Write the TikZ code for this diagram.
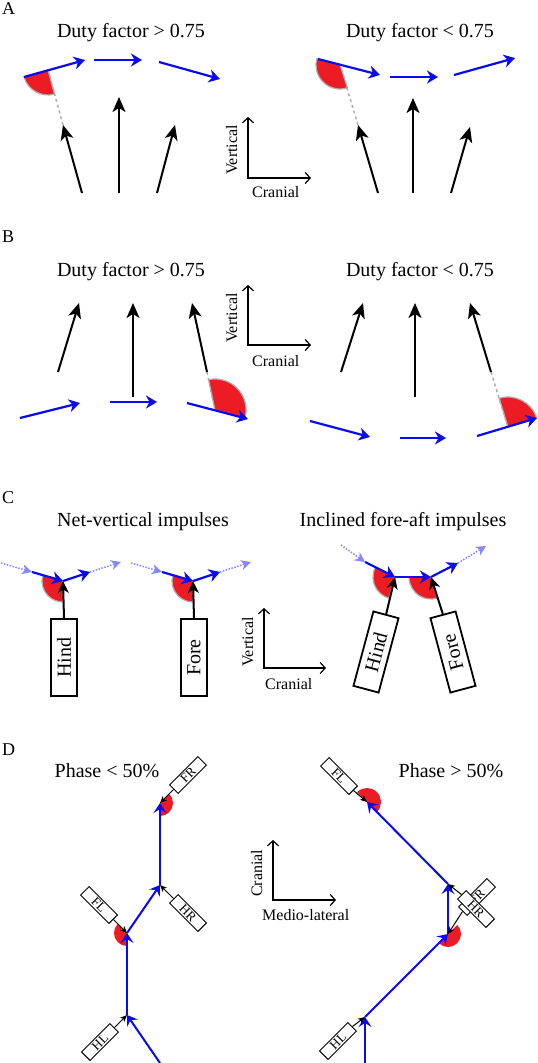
\documentclass[tikz,border=0pt]{standalone}
\usepackage{fontspec}
\setmainfont{Liberation Serif}
\usetikzlibrary{arrows.meta}
\definecolor{myblue}{RGB}{10,10,240}
\definecolor{lightblue}{RGB}{135,135,255}
\definecolor{myred}{RGB}{237,28,36}
\definecolor{bordergray}{RGB}{175,175,175}
\newcommand\fsz[1]{\fontsize{#1}{#1}\selectfont}
\newcommand\rsect[4]{\filldraw[sectorfill] (#1) -- ++(#2:#4) arc[start angle=#2, end angle=#3, radius=#4] -- cycle;}
\newcommand\rsectD[4]{\fill[myred] (#1) -- ++(#2:#4) arc[start angle=#2, end angle=#3, radius=#4] -- cycle;}
\begin{document}
\begin{tikzpicture}[x=1pt,y=1pt,
  bluearr/.style={draw=myblue, line width=2.2pt, -{Stealth[length=11pt,width=13pt,inset=3.5pt]}},
  blackarr/.style={draw=black, line width=2pt, -{Stealth[length=15pt,width=13pt,inset=4pt]}},
  blackarrC/.style={draw=black, line width=2pt, -{Stealth[length=12pt,width=11pt,inset=3.5pt]}},
  dotarr/.style={draw=lightblue, line width=1.5pt, dash pattern=on 1.5pt off 1.5pt, -{Stealth[length=10pt,width=10pt,inset=3pt]}},
  gdash/.style={draw=bordergray, line width=1.5pt, dash pattern=on 3pt off 3pt},
  sectorfill/.style={fill=myred, draw=bordergray, line width=1.2pt},
  axarr/.style={draw=black, line width=1.2pt, {Straight Barb[length=5pt,width=11pt]}-{Straight Barb[length=5pt,width=11pt]}},
  title/.style={font=\fsz{20}, anchor=base, inner sep=0pt},
  plabel/.style={font=\fsz{18}, anchor=base west, inner sep=0pt},
  axlab/.style={font=\fsz{16}, anchor=base west, inner sep=0pt},
  legbox/.style={draw, fill=white, line width=1.8pt, minimum width=77pt, minimum height=26pt, inner sep=0pt, font=\fsz{20}},
  dbox/.style={draw, fill=white, line width=1pt, minimum width=40pt, minimum height=12pt, inner sep=0pt, font=\fsz{13}},
  bluearrD/.style={draw=myblue, line width=2pt, -{Stealth[length=10pt,width=13pt,inset=4pt]}},
  smallarr/.style={draw=black, line width=1pt, -{Stealth[length=7pt,width=6pt,inset=2pt]}}
]
\useasboundingbox (0,0) rectangle (538,-1063);
\fill[white] (0,0) rectangle (538,-1063);

%%%%%%%%%%%%%%%% Panel A
\node[plabel] (labA) at (2,-14) {A};
\node[title] (tA1) at (131,-37) {Duty factor > 0.75};
\node[title] (tA2) at (420,-37) {Duty factor < 0.75};

\coordinate (a1s) at (24,-77); \coordinate (a1e) at (85,-60);
\coordinate (a2s) at (94,-60); \coordinate (a2e) at (142,-60);
\coordinate (a3s) at (159,-62); \coordinate (a3e) at (220,-79);
\coordinate (ac1) at (48,-70);
\coordinate (af1s) at (82,-193); \coordinate (af1e) at (63,-125);
\coordinate (af2s) at (119,-193); \coordinate (af2e) at (119,-97);
\coordinate (af3s) at (157,-193); \coordinate (af3e) at (175,-125);
\draw[gdash] (af1e) -- (ac1);
\rsect{ac1}{196}{285}{25}
\draw[bluearr] (a1s) -- (a1e);
\draw[bluearr] (a2s) -- (a2e);
\draw[bluearr] (a3s) -- (a3e);
\draw[blackarr] (af1s) -- (af1e);
\draw[blackarr] (af2s) -- (af2e);
\draw[blackarr] (af3s) -- (af3e);

\coordinate (b1s) at (318,-59); \coordinate (b1e) at (380,-75);
\coordinate (b2s) at (390,-77); \coordinate (b2e) at (438,-77);
\coordinate (b3s) at (454,-75); \coordinate (b3e) at (515,-58);
\coordinate (bc1) at (340,-65);
\coordinate (bf1s) at (378,-193); \coordinate (bf1e) at (358,-125);
\coordinate (bf2s) at (413,-193); \coordinate (bf2e) at (413,-98);
\coordinate (bf3s) at (451,-193); \coordinate (bf3e) at (470,-127);
\draw[gdash] (bf1e) -- (bc1);
\rsect{bc1}{165}{288}{24}
\draw[bluearr] (b1s) -- (b1e);
\draw[bluearr] (b2s) -- (b2e);
\draw[bluearr] (b3s) -- (b3e);
\draw[blackarr] (bf1s) -- (bf1e);
\draw[blackarr] (bf2s) -- (bf2e);
\draw[blackarr] (bf3s) -- (bf3e);

\coordinate (axA) at (248,-178); \coordinate (axAv) at (248,-117); \coordinate (axAh) at (311,-178);
\draw[axarr] (axAv) -- (axA) -- (axAh);
\node[axlab, rotate=90] (vA) at (237,-175) {Vertical};
\node[axlab] (cA) at (252,-197) {Cranial};

%%%%%%%%%%%%%%%% Panel B
\node[plabel] (labB) at (2,-242) {B};
\node[title] (tB1) at (131,-276) {Duty factor > 0.75};
\node[title] (tB2) at (420,-276) {Duty factor < 0.75};

\coordinate (cf1s) at (58,-372); \coordinate (cf1e) at (79,-303);
\coordinate (cf2s) at (133,-397); \coordinate (cf2e) at (133,-303);
\coordinate (cf3s) at (207,-372); \coordinate (cf3e) at (192,-303);
\coordinate (cc1) at (215,-410);
\coordinate (c1s) at (20,-418); \coordinate (c1e) at (80,-403);
\coordinate (c2s) at (110,-402); \coordinate (c2e) at (157,-402);
\coordinate (c3s) at (187,-403); \coordinate (c3e) at (248,-419);
\draw[gdash] (cf3s) -- (cc1);
\rsect{cc1}{-15}{102}{31}
\draw[blackarr] (cf1s) -- (cf1e);
\draw[blackarr] (cf2s) -- (cf2e);
\draw[blackarr] (cf3s) -- (cf3e);
\draw[bluearr] (c1s) -- (c1e);
\draw[bluearr] (c2s) -- (c2e);
\draw[bluearr] (c3s) -- (c3e);

\coordinate (df1s) at (341,-372); \coordinate (df1e) at (363,-303);
\coordinate (df2s) at (415,-397); \coordinate (df2e) at (415,-303);
\coordinate (df3s) at (491,-372); \coordinate (df3e) at (470,-303);
\coordinate (dc1) at (508,-427);
\coordinate (d1s) at (310,-421); \coordinate (d1e) at (370,-437);
\coordinate (d2s) at (400,-438); \coordinate (d2e) at (446,-438);
\coordinate (d3s) at (477,-436); \coordinate (d3e) at (537,-418);
\draw[gdash] (df3s) -- (dc1);
\rsect{dc1}{17}{107}{30}
\draw[blackarr] (df1s) -- (df1e);
\draw[blackarr] (df2s) -- (df2e);
\draw[blackarr] (df3s) -- (df3e);
\draw[bluearr] (d1s) -- (d1e);
\draw[bluearr] (d2s) -- (d2e);
\draw[bluearr] (d3s) -- (d3e);

\coordinate (axB) at (248,-345); \coordinate (axBv) at (248,-285); \coordinate (axBh) at (311,-345);
\draw[axarr] (axBv) -- (axB) -- (axBh);
\node[axlab, rotate=90] (vB) at (237,-343) {Vertical};
\node[axlab] (cB) at (252,-366) {Cranial};

%%%%%%%%%%%%%%%% Panel C
\node[plabel] (labC) at (2,-503) {C};
\node[title] (tC1) at (143,-526) {Net-vertical impulses};
\node[title] (tC2) at (403,-526) {Inclined fore-aft impulses};

% left hind
\coordinate (h0) at (63,-581);
\coordinate (h0a) at (1,-563); \coordinate (h0b) at (32,-572);
\coordinate (h0c) at (90,-572); \coordinate (h0d) at (121,-562);
\rsect{h0}{164}{270}{21}
\node[legbox, rotate=90] (hindA) at (64,-657.5) {Hind};
\draw[blackarrC] (hindA.east) -- (h0);
\draw[dotarr] (h0a) -- (h0b);
\draw[bluearr] (h0b) -- (h0);
\draw[bluearr] (h0) -- (h0c);
\draw[dotarr] (h0c) -- (h0d);

% left fore
\coordinate (f0) at (193,-581);
\coordinate (f0a) at (131,-563); \coordinate (f0b) at (162,-572);
\coordinate (f0c) at (220,-572); \coordinate (f0d) at (251,-562);
\rsect{f0}{164}{270}{21}
\node[legbox, rotate=90] (foreA) at (194,-657.5) {Fore};
\draw[blackarrC] (foreA.east) -- (f0);
\draw[dotarr] (f0a) -- (f0b);
\draw[bluearr] (f0b) -- (f0);
\draw[bluearr] (f0) -- (f0c);
\draw[dotarr] (f0c) -- (f0d);

% inclined
\coordinate (h1) at (395,-577);
\coordinate (f1) at (431,-577);
\coordinate (i0a) at (341,-545); \coordinate (i0b) at (365,-562);
\coordinate (i0c) at (458,-563); \coordinate (i0d) at (486,-546);
\rsect{h1}{153}{254}{22}
\rsect{f1}{180}{286}{22}
\node[legbox, rotate=75] (hindB) at (376,-652) {Hind};
\node[legbox, rotate=105] (foreB) at (453,-652) {Fore};
\draw[blackarrC] (hindB.east) -- (h1);
\draw[blackarrC] (foreB.east) -- (f1);
\draw[dotarr] (i0a) -- (i0b);
\draw[bluearr] (i0b) -- (h1);
\draw[bluearr] (h1) -- (f1);
\draw[bluearr] (f1) -- (i0c);
\draw[dotarr] (i0c) -- (i0d);

\coordinate (axC) at (264,-668); \coordinate (axCv) at (264,-608); \coordinate (axCh) at (326,-668);
\draw[axarr] (axCv) -- (axC) -- (axCh);
\node[axlab, rotate=90] (vC) at (253,-667) {Vertical};
\node[axlab] (cC) at (265,-689) {Cranial};

%%%%%%%%%%%%%%%% Panel D
\node[plabel] (labD) at (2,-755) {D};
\node[title] (tD1) at (107,-777) {Phase < 50\%};
\node[title] (tD2) at (451,-777) {Phase > 50\%};

% left
\coordinate (p0) at (160,-1063); \coordinate (p1) at (127,-1015);
\coordinate (p2) at (127,-933); \coordinate (p3) at (160,-885);
\coordinate (p4) at (160,-803);
\rsectD{p2}{135}{270}{13}
\rsectD{p4}{-90}{45}{13}
\draw[bluearrD] (p0) -- (p1);
\draw[bluearrD] (p1) -- (p2);
\draw[bluearrD] (p2) -- (p3);
\draw[bluearrD] (p3) -- (p4);
\node[dbox, rotate=45] (frL) at (188,-775) {FR};
\node[dbox, rotate=-45] (hrL) at (188,-913) {HR};
\node[dbox, rotate=-45] (flL) at (99,-905) {FL};
\node[dbox, rotate=45] (hlL) at (100,-1042) {HL};
\draw[smallarr] (frL.west) -- (p4);
\draw[smallarr] (hrL.west) -- (p3);
\draw[smallarr] (flL.east) -- (p2);
\draw[smallarr] (hlL.east) -- (p1);

% right
\coordinate (q0) at (365,-1063); \coordinate (q1) at (365,-1017);
\coordinate (q2) at (448,-934); \coordinate (q3) at (448,-884);
\coordinate (q4) at (367,-802);
\rsectD{q2}{-135}{45}{13}
\rsectD{q4}{-45}{135}{14}
\draw[bluearrD] (q0) -- (q1);
\draw[bluearrD] (q1) -- (q2);
\draw[bluearrD] (q2) -- (q3);
\draw[bluearrD] (q3) -- (q4);
\node[dbox, rotate=-45] (flR) at (339,-776) {FL};
\node[dbox, rotate=45] (hlR) at (338,-1041) {HL};
\node[dbox, rotate=45] (frR) at (477,-897) {FR};
\node[dbox, rotate=-45] (hrR) at (476,-909) {HR};
\draw[smallarr] (flR.east) -- (q4);
\draw[smallarr] (hlR.east) -- (q1);
\draw[smallarr] (frR.west) -- (q2);
\draw[smallarr] (hrR.west) -- (q3);

\coordinate (axD) at (273,-900); \coordinate (axDv) at (273,-840); \coordinate (axDh) at (336,-900);
\draw[axarr] (axDv) -- (axD) -- (axDh);
\node[axlab, rotate=90] (vD) at (262,-897) {Cranial};
\node[axlab] (cD) at (262,-920) {Medio-lateral};
\end{tikzpicture}
\end{document}
